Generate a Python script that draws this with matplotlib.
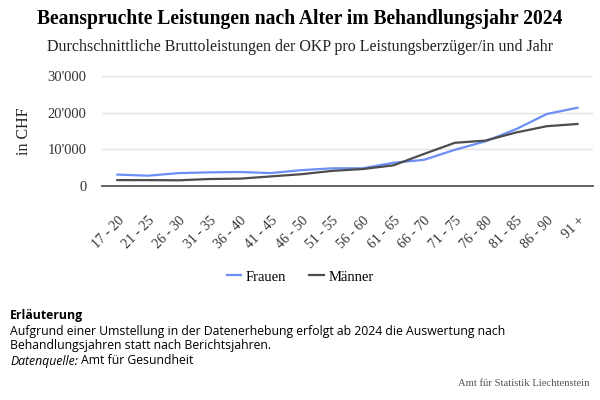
import matplotlib.pyplot as plt
from matplotlib.ticker import FuncFormatter
from matplotlib.transforms import ScaledTranslation

# age groups and average gross benefits (CHF)
altersgruppen = ["17 - 20", "21 - 25", "26 - 30", "31 - 35", "36 - 40", "41 - 45",
                 "46 - 50", "51 - 55", "56 - 60", "61 - 65", "66 - 70", "71 - 75",
                 "76 - 80", "81 - 85", "86 - 90", "91 +"]
frauen = [3200, 2900, 3600, 3800, 3900, 3600, 4400, 4900, 4900, 6400, 7200, 9900,
          12200, 15500, 19600, 21300]
maenner = [1700, 1700, 1650, 2000, 2100, 2700, 3300, 4200, 4700, 5700, 8800, 11800,
           12400, 14600, 16300, 16900]

SERIF = "Liberation Serif"
SANS = "Open Sans"

fig = plt.figure(figsize=(6, 4), dpi=100)
ax = fig.add_axes([0.17, 0.534, 0.818, 0.277])

x = range(len(altersgruppen))
ax.plot(x, frauen, color="#6b8ff7", lw=1.6, label="Frauen")
ax.plot(x, maenner, color="#4d4d4d", lw=1.6, label="Männer")

ax.set_xlim(-0.5, len(altersgruppen) - 0.5)
ax.set_ylim(0, 30000)
ax.set_yticks([0, 10000, 20000, 30000])
ax.yaxis.set_major_formatter(FuncFormatter(lambda v, p: f"{int(v):,}".replace(",", "'")))
ax.set_xticks(list(x))
ax.set_xticklabels(altersgruppen, rotation=45, ha="right", rotation_mode="anchor",
                   fontfamily=SERIF, fontsize=10, color="#333333")
shift = ScaledTranslation(6 / 100, 0, fig.dpi_scale_trans)
for lab in ax.get_xticklabels():
    lab.set_transform(lab.get_transform() + shift)
for lab in ax.get_yticklabels():
    lab.set_fontfamily(SERIF)
    lab.set_fontsize(10.5)
    lab.set_color("#333333")
ax.tick_params(axis="y", length=0, pad=11)
ax.tick_params(axis="x", length=0, pad=20)
ax.grid(axis="y", color="#e3e3e3", lw=1)
ax.set_axisbelow(True)
for s in ["top", "right", "left"]:
    ax.spines[s].set_visible(False)
ax.spines["bottom"].set_color("#555555")
ax.spines["bottom"].set_linewidth(1.3)
ax.set_ylabel("in CHF", fontfamily=SERIF, fontsize=11.5, color="#222222", labelpad=11)

fig.legend(loc="center", bbox_to_anchor=(0.5, 1 - 277 / 400), ncol=2, frameon=False,
           prop={"family": SERIF, "size": 10.5}, handlelength=1.0, columnspacing=1.6,
           handletextpad=0.3)

fig.text(0.5, 1 - 19 / 400, "Beanspruchte Leistungen nach Alter im Behandlungsjahr 2024",
         ha="center", va="center", fontfamily=SERIF, fontweight="bold", fontsize=14.1)
fig.text(0.5, 1 - 47 / 400, "Durchschnittliche Bruttoleistungen der OKP pro Leistungsberzüger/in und Jahr",
         ha="center", va="center", fontfamily=SERIF, fontsize=11.5, color="#222222")

fs = 8.8
fig.text(10 / 600, 1 - 315 / 400, "Erläuterung", ha="left", va="center",
         fontfamily=SANS, fontweight="bold", fontsize=fs)
fig.text(10 / 600, 1 - 331 / 400,
         "Aufgrund einer Umstellung in der Datenerhebung erfolgt ab 2024 die Auswertung nach",
         ha="left", va="center", fontfamily=SANS, fontsize=fs)
fig.text(10 / 600, 1 - 346 / 400, "Behandlungsjahren statt nach Berichtsjahren.",
         ha="left", va="center", fontfamily=SANS, fontsize=fs)
dq = fig.text(10 / 600, 1 - 361 / 400, "Datenquelle:", ha="left", va="center",
              fontfamily=SANS, fontstyle="italic", fontsize=fs)
renderer = fig.canvas.get_renderer()
x_end = dq.get_window_extent(renderer).x1
fig.text((x_end + 3) / 600, 1 - 361 / 400, "Amt für Gesundheit", ha="left", va="center",
         fontfamily=SANS, fontsize=fs)
fig.text(590 / 600, 1 - 384 / 400, "Amt für Statistik Liechtenstein", ha="right", va="center",
         fontfamily=SERIF, fontsize=7.7, color="#555555")

fig.savefig("out.png", dpi=100)
